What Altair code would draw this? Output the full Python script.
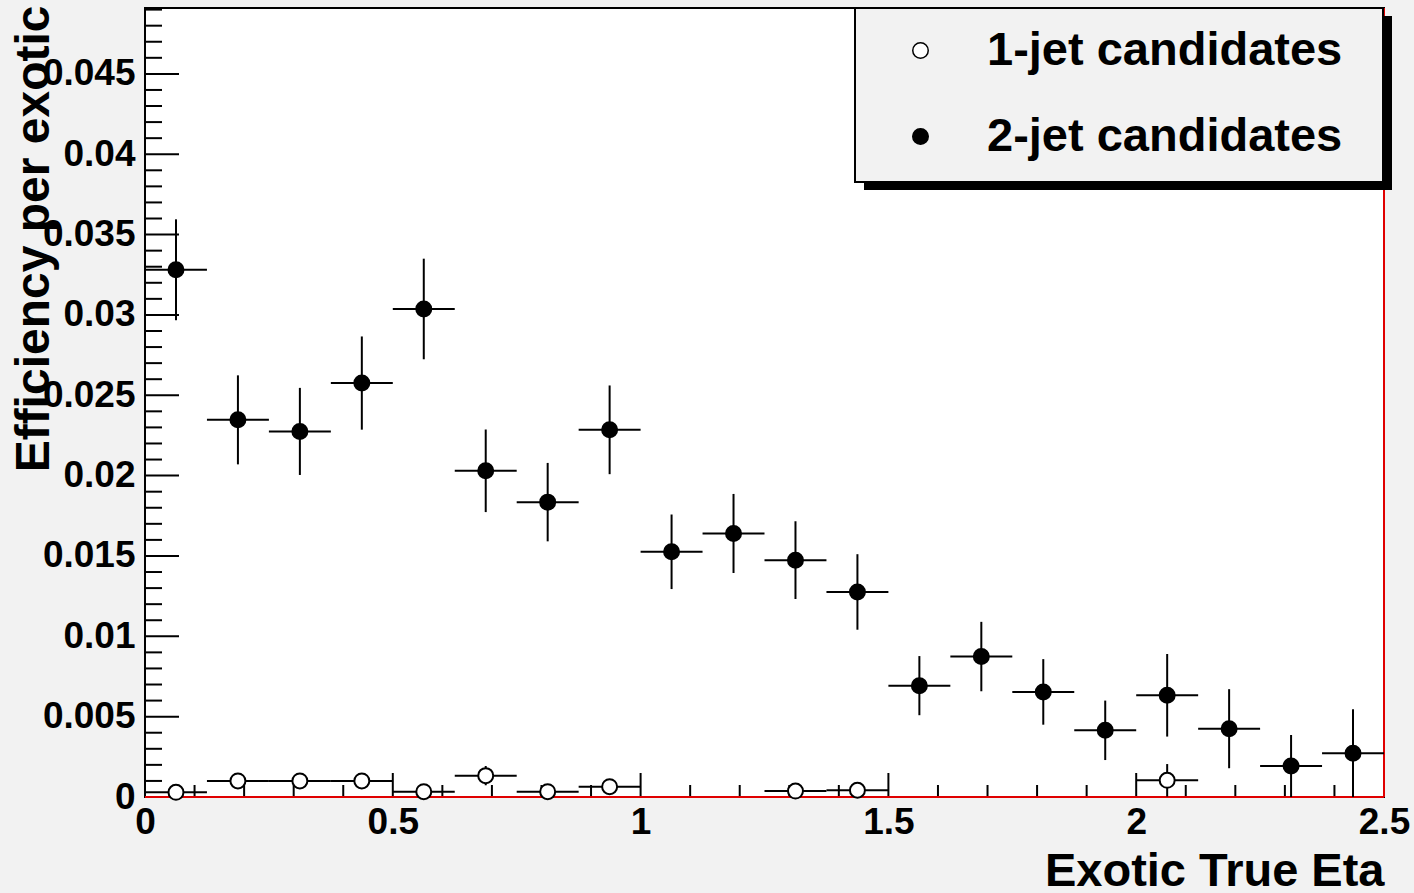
import altair as alt
import pandas as pd

# Bin centres in |eta| (20 bins of width 0.125 between 0 and 2.5)
BIN_HALF = 0.0625
ETA = [0.0625, 0.1875, 0.3125, 0.4375, 0.5625, 0.6875, 0.8125, 0.9375, 1.0625, 1.1875,
       1.3125, 1.4375, 1.5625, 1.6875, 1.8125, 1.9375, 2.0625, 2.1875, 2.3125, 2.4375]

# 2-jet candidates: efficiency and its error per bin
EFF_2JET = [0.03281, 0.02347, 0.02275, 0.02576, 0.03037, 0.02030, 0.01835, 0.02285, 0.01526, 0.01640,
            0.01474, 0.01276, 0.00693, 0.00874, 0.00654, 0.00415, 0.00633, 0.00425, 0.00193, 0.00272]
ERR_2JET = [0.00314, 0.00277, 0.00271, 0.00290, 0.00313, 0.00257, 0.00244, 0.00276, 0.00232, 0.00246,
            0.00242, 0.00235, 0.00184, 0.00216, 0.00204, 0.00185, 0.00257, 0.00246, 0.00193, 0.00274]

# 1-jet candidates (only non-empty bins)
ETA_1JET = [0.0625, 0.1875, 0.3125, 0.4375, 0.5625, 0.6875, 0.8125, 0.9375, 1.3125, 1.4375, 2.0625]
EFF_1JET = [0.00029, 0.00100, 0.00100, 0.00100, 0.00033, 0.00133, 0.00033, 0.00064, 0.00037, 0.00042, 0.00104]
ERR_1JET = [0.00020, 0.00040, 0.00040, 0.00040, 0.00020, 0.00060, 0.00020, 0.00030, 0.00020, 0.00020, 0.00101]

SERIES = ["1-jet candidates", "2-jet candidates"]

# Axis tick values
X_MAJOR = [0, 0.5, 1, 1.5, 2, 2.5]
X_MINOR = [0.1, 0.2, 0.3, 0.4, 0.6, 0.7, 0.8, 0.9, 1.1, 1.2, 1.3, 1.4,
           1.6, 1.7, 1.8, 1.9, 2.1, 2.2, 2.3, 2.4]
Y_MAJOR = [0, 0.005, 0.01, 0.015, 0.02, 0.025, 0.03, 0.035, 0.04, 0.045]
Y_MINOR = [0.001, 0.002, 0.003, 0.004, 0.006, 0.007, 0.008, 0.009, 0.011, 0.012, 0.013, 0.014,
           0.016, 0.017, 0.018, 0.019, 0.021, 0.022, 0.023, 0.024, 0.026, 0.027, 0.028, 0.029,
           0.031, 0.032, 0.033, 0.034, 0.036, 0.037, 0.038, 0.039, 0.041, 0.042, 0.043, 0.044,
           0.046, 0.047, 0.048, 0.049]

X_MAX = 2.5
Y_MAX = 0.0491

W, H = 1239, 789
FONT = "Liberation Sans"
BG = "#f2f2f2"

rows = []
for e, v, s in zip(ETA_1JET, EFF_1JET, ERR_1JET):
    rows.append({"series": SERIES[0], "eta": e, "eff": v, "err": s})
for e, v, s in zip(ETA, EFF_2JET, ERR_2JET):
    rows.append({"series": SERIES[1], "eta": e, "eff": v, "err": s})
df = pd.DataFrame(rows)
df["x0"] = df["eta"] - BIN_HALF
df["x1"] = df["eta"] + BIN_HALF
df["lo"] = (df["eff"] - df["err"]).clip(lower=0)
df["hi"] = df["eff"] + df["err"]

xs = alt.Scale(domain=[0, X_MAX], nice=False, zero=False)
ys = alt.Scale(domain=[0, Y_MAX], nice=False, zero=False)

x_axis = alt.Axis(
    values=X_MAJOR, format="~g", ticks=False, domain=False, grid=False,
    labelFont=FONT, labelFontSize=37, labelFontWeight="bold", labelColor="black",
    labelPadding=7, labelFlush=False, labelOverlap=False,
    title="Exotic True Eta", titleFont=FONT, titleFontSize=47, titleFontWeight="bold",
    titleColor="black", titleAlign="right", titleBaseline="alphabetic",
    titleX=W, titleY=88,
)
y_axis = alt.Axis(
    values=Y_MAJOR, format="~g", ticks=False, domain=False, grid=False,
    labelFont=FONT, labelFontSize=37, labelFontWeight="bold", labelColor="black",
    labelPadding=10, labelFlush=False, labelOverlap=False,
    title="Efficiency per exotic", titleFont=FONT, titleFontSize=48, titleFontWeight="bold",
    titleColor="black", titleAngle=270, titleAlign="right", titleBaseline="alphabetic",
    titleX=-97, titleY=-3,
)

base = alt.Chart(df)

# horizontal bars spanning each bin
hbars = base.mark_rule(color="black", strokeWidth=2).encode(
    x=alt.X("x0:Q", scale=xs, axis=x_axis),
    x2="x1:Q",
    y=alt.Y("eff:Q", scale=ys, axis=y_axis),
)

# vertical error bars
vbars = base.mark_rule(color="black", strokeWidth=2).encode(
    x=alt.X("eta:Q", scale=xs, axis=x_axis),
    y=alt.Y("lo:Q", scale=ys, axis=y_axis),
    y2="hi:Q",
)

points = base.mark_point(shape="circle", filled=True, stroke="black", strokeWidth=2,
                         size=225, opacity=1).encode(
    x=alt.X("eta:Q", scale=xs, axis=x_axis),
    y=alt.Y("eff:Q", scale=ys, axis=y_axis),
    fill=alt.Fill(
        "series:N",
        scale=alt.Scale(domain=SERIES, range=["white", "black"]),
        legend=alt.Legend(
            title=None, orient="none", legendX=752, legendY=19,
            labelFont=FONT, labelFontSize=47, labelFontWeight="bold", labelColor="black",
            labelLimit=1000, labelOffset=43, rowPadding=38,
            symbolType="circle", symbolSize=240, symbolStrokeColor="black",
            symbolStrokeWidth=1.5, padding=0,
        ),
    ),
)

# axis tick marks (drawn inward)
ytick_major = alt.Chart(pd.DataFrame({"v": Y_MAJOR})).mark_rule(color="black", strokeWidth=2).encode(
    y=alt.Y("v:Q", scale=ys, axis=y_axis), x=alt.value(0), x2=alt.value(34))
ytick_minor = alt.Chart(pd.DataFrame({"v": Y_MINOR})).mark_rule(color="black", strokeWidth=2).encode(
    y=alt.Y("v:Q", scale=ys, axis=y_axis), x=alt.value(0), x2=alt.value(17))
xtick_major = alt.Chart(pd.DataFrame({"v": X_MAJOR})).mark_rule(color="black", strokeWidth=2).encode(
    x=alt.X("v:Q", scale=xs, axis=x_axis), y=alt.value(H), y2=alt.value(H - 24))
xtick_minor = alt.Chart(pd.DataFrame({"v": X_MINOR})).mark_rule(color="black", strokeWidth=2).encode(
    x=alt.X("v:Q", scale=xs, axis=x_axis), y=alt.value(H), y2=alt.value(H - 12))

# red histogram outline along the bottom and right edge
red_df = pd.DataFrame({"x0": [0, X_MAX], "x1": [X_MAX, X_MAX], "y0": [0, 0], "y1": [0, Y_MAX]})
red = alt.Chart(red_df).mark_rule(color="#e00000", strokeWidth=2).encode(
    x=alt.X("x0:Q", scale=xs, axis=x_axis), x2="x1:Q",
    y=alt.Y("y0:Q", scale=ys, axis=y_axis), y2="y1:Q",
)

# legend box with drop shadow
shadow = alt.Chart(pd.DataFrame({"k": [0]})).mark_rect(fill="black").encode(
    x=alt.value(719), x2=alt.value(1247), y=alt.value(8), y2=alt.value(182))
box = alt.Chart(pd.DataFrame({"k": [0]})).mark_rect(fill=BG, stroke="black", strokeWidth=2).encode(
    x=alt.value(710), x2=alt.value(1238), y=alt.value(0), y2=alt.value(174))

chart = alt.layer(
    xtick_minor, xtick_major, ytick_minor, ytick_major, red,
    hbars, vbars, points, shadow, box,
).properties(
    width=W, height=H,
    autosize=alt.AutoSizeParams(type="none"),
    padding={"left": 145, "top": 8, "right": 1414 - 145 - W, "bottom": 893 - 8 - H},
).configure(
    background=BG,
).configure_view(
    fill="white", stroke="black", strokeWidth=2,
)

chart.save("out.html", embed_options={"renderer": "svg", "actions": False})
